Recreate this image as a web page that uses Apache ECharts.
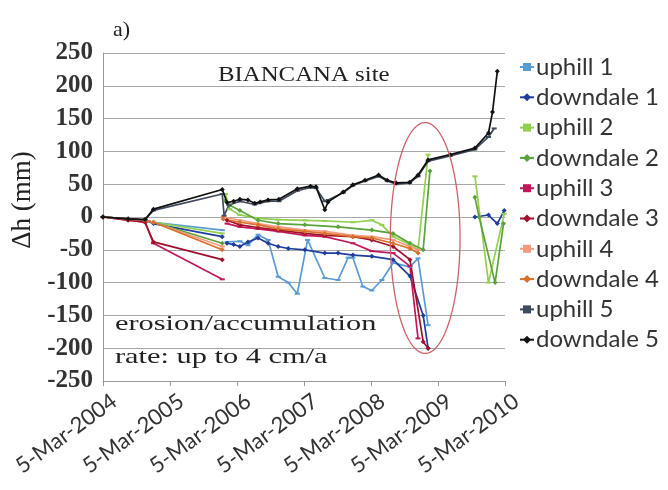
<!DOCTYPE html>
<html><head><meta charset="utf-8">
<script src="https://cdn.jsdelivr.net/npm/echarts@6/dist/echarts.min.js"></script>
<style>html,body{margin:0;padding:0;background:#fff}#c{width:668px;height:490px}</style>
</head><body><div id="c"></div>
<script>
const START_DATE = '2004-03-05';
const END_DATE = '2010-03-05';
const tickLabels = ['5-Mar-2004','5-Mar-2005','5-Mar-2006','5-Mar-2007','5-Mar-2008','5-Mar-2009','5-Mar-2010'];
const yMin = -250, yMax = 250, yStep = 50;
const seriesNames = ['uphill 1','downdale 1','uphill 2','downdale 2','uphill 3','downdale 3','uphill 4','downdale 4','uphill 5','downdale 5'];

const uphill1 = [['2004-03-05',0],['2004-07-20',-3],['2004-10-20',-5],['2004-12-05',-8],['2005-12-15',-20],['2005-12-17',null],
 ['2006-01-10',-38],['2006-03-21',-37],['2006-05-04',-43],['2006-06-28',-27],['2006-08-22',-35],['2006-10-16',-91],['2006-12-10',-100],['2007-01-28',-117],['2007-03-25',-35],['2007-06-27',-93],['2007-09-07',-96],['2007-11-01',-62],['2007-11-27',-62],['2008-01-20',-106],['2008-03-09',-112],['2008-05-03',-96],['2008-07-03',-70],['2008-10-03',-76],['2008-11-16',-63],['2009-01-10',-165]];
const downdale1 = [['2004-03-05',0],['2004-07-20',-3],['2004-10-20',-5],['2004-12-05',-10],['2005-12-15',-30],['2005-12-17',null],
 ['2006-01-10',-40],['2006-02-15',-42],['2006-03-21',-45],['2006-05-04',-38],['2006-06-28',-32],['2006-08-22',-40],['2006-10-16',-45],['2006-12-10',-48],['2007-03-10',-50],['2007-06-27',-55],['2007-09-07',-55],['2007-11-27',-58],['2008-03-09',-60],['2008-07-03',-65],['2008-10-03',-90],['2008-12-14',-150],['2009-01-10',-200],['2009-05-01',null],['2009-09-22',0],['2009-12-05',3],['2010-01-22',-10],['2010-03-01',10]];
const uphill2 = [['2004-03-05',0],['2004-07-20',-3],['2004-10-20',-5],['2004-12-05',-8],['2005-12-15',-25],['2005-12-17',null],
 ['2006-01-01',35],['2006-01-25',12],['2006-03-21',3],['2006-06-28',-2],['2006-10-16',-4],['2007-03-10',-5],['2007-06-27',-6],['2007-11-27',-8],['2008-03-09',-5],['2008-05-03',-12],['2008-07-03',-30],['2008-10-03',-42],['2008-11-16',-50],['2009-01-10',95],['2009-05-01',null],['2009-09-22',62],['2009-12-05',-100],['2010-03-01',5]];
const downdale2 = [['2004-03-05',0],['2004-07-20',-3],['2004-10-20',-5],['2004-12-05',-8],['2005-12-15',-40],['2005-12-17',null],
 ['2006-01-01',25],['2006-01-25',18],['2006-03-21',10],['2006-06-28',-5],['2006-10-16',-10],['2007-03-10',-12],['2007-09-07',-15],['2008-03-09',-20],['2008-07-03',-25],['2008-10-03',-40],['2008-12-14',-50],['2009-01-20',70],['2009-05-01',null],['2009-09-22',30],['2009-10-15',0],['2010-01-10',-100],['2010-02-25',-10]];
const uphill3 = [['2004-03-05',0],['2004-07-20',-5],['2004-10-20',-8],['2004-12-05',-40],['2005-12-15',-95],['2005-12-17',null],
 ['2006-01-10',-10],['2006-03-21',-15],['2006-06-28',-18],['2006-10-16',-22],['2007-03-10',-28],['2007-06-27',-30],['2007-11-27',-40],['2008-03-09',-52],['2008-07-03',-55],['2008-10-03',-75],['2008-11-16',-185]];
const downdale3 = [['2004-03-05',0],['2004-07-20',-5],['2004-10-20',-8],['2004-12-05',-38],['2005-12-15',-65],['2005-12-17',null],
 ['2006-01-10',-5],['2006-03-21',-12],['2006-06-28',-16],['2006-10-16',-20],['2007-03-10',-25],['2007-06-27',-28],['2007-11-27',-30],['2008-03-09',-35],['2008-07-03',-45],['2008-10-03',-65],['2008-12-14',-190],['2009-01-10',-200]];
const uphill4 = [['2004-03-05',0],['2004-07-20',-3],['2004-10-20',-5],['2004-12-05',-8],['2005-12-15',-45],['2005-12-17',null],
 ['2005-12-20',0],['2006-03-21',-5],['2006-06-28',-10],['2006-10-16',-15],['2007-03-10',-20],['2007-06-27',-22],['2007-11-27',-28],['2008-03-09',-30],['2008-07-03',-35],['2008-10-03',-45],['2008-11-16',-50]];
const downdale4 = [['2004-03-05',0],['2004-07-20',-3],['2004-10-20',-5],['2004-12-05',-8],['2005-12-15',-50],['2005-12-17',null],
 ['2005-12-20',-3],['2006-03-21',-8],['2006-06-28',-12],['2006-10-16',-18],['2007-03-10',-22],['2007-06-27',-25],['2007-11-27',-30],['2008-03-09',-32],['2008-07-03',-40],['2008-10-03',-48],['2008-11-16',-55]];
const uphill5 = [['2004-03-05',0],['2004-07-20',-3],['2004-10-20',-4],['2004-12-05',10],['2005-12-15',35],['2005-12-25',2],['2006-01-20',18],['2006-03-21',24],['2006-06-10',19],['2006-08-22',24],['2006-10-20',24],['2007-01-28',40],['2007-04-10',45],['2007-05-10',44],['2007-06-27',24],['2007-07-15',26],['2007-10-05',37],['2007-11-27',48],['2008-02-01',55],['2008-04-15',62],['2008-06-01',55],['2008-07-20',50],['2008-10-01',52],['2008-11-16',62],['2009-01-10',85],['2009-05-10',93],['2009-09-22',103],['2009-12-05',122],['2010-01-05',135]];
const downdale5 = [['2004-03-05',0],['2004-07-20',-3],['2004-10-20',-4],['2004-12-05',12],['2005-12-15',42],['2006-01-10',22],['2006-02-15',24],['2006-03-21',27],['2006-05-04',26],['2006-06-10',21],['2006-07-10',23],['2006-08-22',26],['2006-10-20',27],['2007-01-28',43],['2007-04-10',47],['2007-05-10',46],['2007-06-27',11],['2007-07-15',23],['2007-10-05',38],['2007-11-27',49],['2008-02-01',56],['2008-04-15',64],['2008-06-01',56],['2008-07-20',52],['2008-10-01',53],['2008-11-16',64],['2009-01-10',87],['2009-05-10',95],['2009-09-22',105],['2009-12-05',128],['2009-12-27',160],['2010-01-22',222]];

const seriesData = [uphill1, downdale1, uphill2, downdale2, uphill3, downdale3, uphill4, downdale4, uphill5, downdale5];
const colors = ['#5b9bd5','#1f3d9c','#92d050','#5aa23a','#c2185b','#a0102c','#f59a7c','#d8702a','#3e4a5e','#111111'];

// annotation ellipse in data units
const ellipseCenter = ['2008-12-25', -32];
const ellipseHalfWidthDays = 190;
const ellipseHalfHeight = 176;

const DAY = 86400000;
const t0 = Date.parse(START_DATE);
const toDays = d => (Date.parse(d) - t0) / DAY;
const xMax = toDays(END_DATE);
const xStep = xMax / (tickLabels.length - 1);

const chart = echarts.init(document.getElementById('c'), null, {renderer: 'canvas'});
const series = seriesNames.map((name, i) => {
  const up = name.startsWith('uphill');
  return {
    name, type: 'line', color: colors[i],
    data: seriesData[i].map(([d, v]) => [toDays(d), v === null ? '-' : v]),
    symbol: up ? 'rect' : 'diamond',
    symbolSize: up ? [5, 2] : 5,
    showSymbol: true,
    lineStyle: {width: 1.7},
    connectNulls: false,
    animation: false,
    z: i === 9 ? 5 : 2
  };
});

chart.setOption({
  animation: false,
  backgroundColor: '#fff',
  title: {text: 'a)', left: 108, top: 14, textStyle: {fontFamily: 'Liberation Serif', fontSize: 22, fontWeight: 'normal', color: '#222'}},
  grid: {left: 103, right: 163, top: 53, bottom: 109},
  legend: {
    orient: 'vertical', left: 514, top: 50,
    itemWidth: 14, itemHeight: 10, itemGap: 6.3,
    textStyle: {fontFamily: 'Lato', fontSize: 24, color: '#333', lineHeight: 24, padding: [0,0,0,-3]},
    data: seriesNames
  },
  xAxis: {
    type: 'value', min: 0, max: xMax, interval: xStep,
    axisLine: {onZero: false, lineStyle: {color: '#999', width: 1}},
    axisTick: {show: true, length: 5, lineStyle: {color: '#999'}},
    splitLine: {show: false},
    axisLabel: {
      rotate: 36, margin: 26, fontFamily: 'Lato', fontSize: 22, color: '#333', padding: [0, -14, 0, 0],
      formatter: v => tickLabels[Math.round(v / xStep)] || ''
    }
  },
  yAxis: {
    type: 'value', min: yMin, max: yMax, interval: yStep,
    name: 'Δh (mm)', nameLocation: 'middle', nameGap: 66, nameRotate: 90,
    nameTextStyle: {fontFamily: 'Liberation Serif', fontSize: 27, color: '#222', padding: [0,0,0,34]},
    axisLine: {show: true, lineStyle: {color: '#999', width: 1}},
    axisTick: {show: false},
    splitLine: {lineStyle: {color: '#a8a8a8', width: 1}},
    axisLabel: {margin: 10, fontFamily: 'Liberation Serif', fontSize: 25, fontWeight: 'bold', color: '#333'}
  },
  series
});

// annotations: texts and ellipse
const g = [];
g.push({type: 'text', x: 218, y: 66, scaleX: 1.24, z: 10,
  style: {text: 'BIANCANA site', fontFamily: 'Liberation Serif', fontSize: 20, fill: '#222'}});
g.push({type: 'text', x: 115, y: 313, scaleX: 1.38, z: 10,
  style: {text: 'erosion/accumulation', fontFamily: 'Liberation Serif', fontSize: 22, fill: '#222'}});
g.push({type: 'text', x: 115, y: 346, scaleX: 1.38, z: 10,
  style: {text: 'rate: up to 4 cm/a', fontFamily: 'Liberation Serif', fontSize: 22, fill: '#222'}});
const cx = toDays(ellipseCenter[0]), cy = ellipseCenter[1];
const pts = [];
for (let k = 0; k <= 90; k++) {
  const a = k / 90 * Math.PI * 2;
  pts.push(chart.convertToPixel({gridIndex: 0}, [cx + ellipseHalfWidthDays * Math.cos(a), cy + ellipseHalfHeight * Math.sin(a)]));
}
g.push({type: 'polyline', z: 20, shape: {points: pts}, style: {stroke: '#d0606a', lineWidth: 1.3, fill: null}});
chart.setOption({graphic: g});
</script></body></html>
